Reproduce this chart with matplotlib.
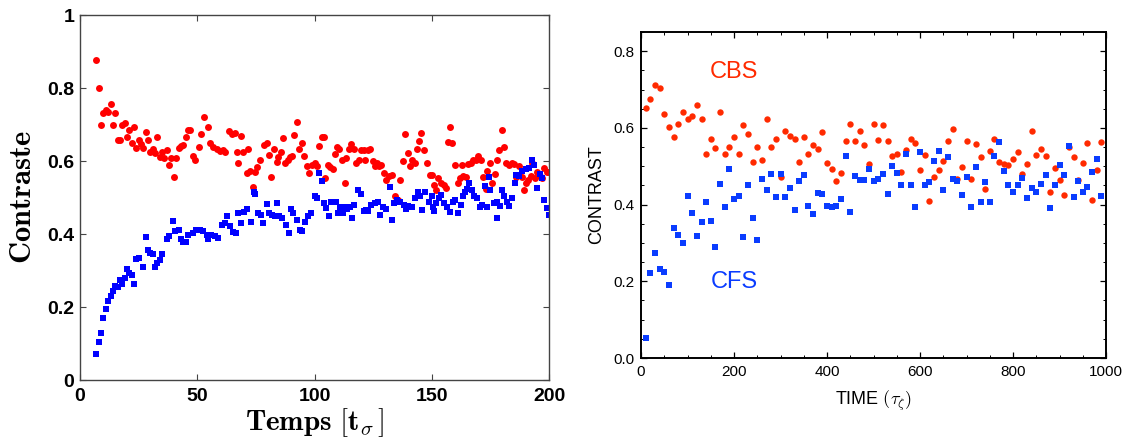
import matplotlib.pyplot as plt
from matplotlib.ticker import MultipleLocator, FuncFormatter

# left panel (Temps [t_sigma] vs Contraste)
t_rouge = [7, 8, 9, 10, 11, 12, 13, 14, 15, 16, 17, 18, 19, 20, 21, 22, 23, 24, 25, 26,
           27, 28, 29, 30, 31, 32, 33, 34, 35, 36, 37, 38, 39, 40, 41, 42, 43, 44, 45, 46,
           47, 48, 49, 50.7, 51.5, 52.9, 54.4, 55.4, 56.9, 58.2, 59.7, 61, 62, 63.5, 64.9, 66,
           66.8, 67.5, 68.5, 69.6, 71, 71.5, 72.5, 73.7, 74.6, 75.3, 76.8, 78.6, 79.6, 80.6,
           81.6, 82.9, 83.9, 84.6, 85.6, 86.6, 87.4, 88.5, 89.7, 90.5, 91.4, 92.5, 93.4, 94.8,
           95.7, 96.7, 97.7, 98.8, 100, 101, 101.8, 103.2, 104, 104.6, 105.8, 106.7, 107.7,
           108.6, 109.6, 110.6, 111.7, 112.8, 113.6, 114.6, 115.7, 116.7, 117.8, 118.8, 119.9,
           120.9, 121.7, 122.8, 123.8, 124.8, 125.7, 126.7, 127.6, 128.5, 129.5, 130.5, 131.6,
           133, 134.2, 135.6, 136.6, 137.6, 138.7, 139.7, 140.6, 141.6, 142.7, 143.7, 144.7,
           145.6, 146.6, 148, 149.4, 150, 151, 151.7, 152.8, 154, 155.2, 156, 157, 157.7, 158.8,
           160, 161, 162, 162.8, 163.5, 164.5, 165.5, 166.6, 167.6, 168.7, 169.7, 170.9, 171.8,
           173, 173.7, 174.7, 175.6, 176.8, 178, 178.7, 179.8, 180.8, 181.8, 183, 184, 185, 186,
           187.2, 188.3, 189.3, 190.3, 191.2, 192.2, 192.9, 194, 195, 196, 197, 198, 199.3, 200]
c_rouge = [0.878, 0.80, 0.698, 0.732, 0.739, 0.735, 0.755, 0.698, 0.732, 0.657, 0.657, 0.698,
           0.705, 0.665, 0.685, 0.648, 0.692, 0.637, 0.657, 0.646, 0.637, 0.680, 0.657, 0.625,
           0.634, 0.621, 0.666, 0.612, 0.625, 0.607, 0.630, 0.589, 0.607, 0.555, 0.607, 0.637,
           0.641, 0.644, 0.665, 0.685, 0.685, 0.614, 0.603, 0.639, 0.675, 0.721, 0.692, 0.648,
           0.639, 0.632, 0.627, 0.630, 0.625, 0.682, 0.675, 0.677, 0.625, 0.595, 0.668, 0.625,
           0.568, 0.634, 0.574, 0.528, 0.571, 0.583, 0.603, 0.643, 0.648, 0.616, 0.555, 0.634,
           0.598, 0.610, 0.625, 0.663, 0.595, 0.603, 0.612, 0.615, 0.670, 0.707, 0.634, 0.650,
           0.614, 0.585, 0.568, 0.589, 0.594, 0.586, 0.642, 0.665, 0.665, 0.553, 0.589, 0.583,
           0.578, 0.619, 0.639, 0.632, 0.604, 0.541, 0.607, 0.632, 0.646, 0.632, 0.595, 0.603,
           0.630, 0.630, 0.603, 0.630, 0.632, 0.601, 0.585, 0.594, 0.586, 0.589, 0.566, 0.548,
           0.559, 0.562, 0.503, 0.492, 0.548, 0.601, 0.675, 0.623, 0.585, 0.603, 0.594, 0.633,
           0.655, 0.677, 0.630, 0.595, 0.562, 0.562, 0.535, 0.521, 0.553, 0.541, 0.535, 0.525,
           0.653, 0.692, 0.648, 0.589, 0.539, 0.553, 0.589, 0.559, 0.557, 0.592, 0.594, 0.603,
           0.603, 0.614, 0.603, 0.555, 0.523, 0.574, 0.594, 0.539, 0.565, 0.603, 0.630, 0.685,
           0.639, 0.594, 0.589, 0.595, 0.592, 0.555, 0.586, 0.557, 0.521, 0.539, 0.548, 0.559,
           0.594, 0.553, 0.571, 0.559, 0.553, 0.580, 0.571, 0.571]

t_bleu = [7, 8, 9, 10, 11, 12, 13, 14, 15, 16, 17, 18, 19, 20, 21, 22, 23, 24, 25, 27, 28,
          29, 30, 31, 32, 33, 34, 35, 37, 38, 39.5, 40.5, 42, 43, 44, 45, 46, 48, 49.5, 51,
          52.6, 54, 54.7, 56, 57.6, 59, 60.4, 61.8, 62.6, 64, 65.4, 66.4, 67.5, 68.5, 70, 71,
          72.8, 74, 74.6, 75.8, 77, 78, 79.6, 80.6, 81.7, 83, 84, 85, 86, 87.7, 88.9, 90, 91,
          92.4, 93.8, 94.8, 96, 97, 98.5, 100, 101, 101.8, 103, 104, 105, 106, 107, 108, 109,
          110, 111, 112, 113, 114, 115, 116, 117, 118.5, 120, 121, 122, 123, 124, 125.6, 127,
          128, 129, 130.5, 132, 133, 134, 135, 136.6, 138, 139, 140, 141.6, 143, 144, 145, 146,
          147, 148.7, 150, 150.5, 151, 152, 153, 154, 155, 156.6, 157.7, 159, 160, 161.3, 162.3,
          163.3, 164.2, 165, 166, 167, 168, 169.4, 170.4, 171.6, 172.7, 173.7, 174.4, 175,
          176.5, 177.7, 178, 179, 180, 181, 182, 183, 184, 185.5, 186, 187, 188.6, 190, 191.3,
          192.6, 193.6, 195, 196, 197, 198, 199, 200]
c_bleu = [0.071, 0.105, 0.128, 0.171, 0.195, 0.216, 0.230, 0.244, 0.257, 0.255, 0.275, 0.262,
          0.280, 0.303, 0.292, 0.289, 0.262, 0.332, 0.335, 0.310, 0.392, 0.357, 0.348, 0.344,
          0.310, 0.321, 0.330, 0.344, 0.385, 0.394, 0.436, 0.407, 0.412, 0.385, 0.377, 0.377,
          0.398, 0.403, 0.412, 0.412, 0.407, 0.398, 0.385, 0.398, 0.394, 0.389, 0.425, 0.430,
          0.450, 0.422, 0.405, 0.403, 0.457, 0.430, 0.459, 0.468, 0.432, 0.514, 0.510, 0.457,
          0.453, 0.430, 0.483, 0.457, 0.453, 0.448, 0.484, 0.448, 0.444, 0.425, 0.403, 0.468,
          0.457, 0.439, 0.412, 0.407, 0.434, 0.448, 0.457, 0.503, 0.498, 0.566, 0.544, 0.485,
          0.471, 0.448, 0.487, 0.489, 0.487, 0.457, 0.475, 0.457, 0.475, 0.468, 0.475, 0.444,
          0.480, 0.521, 0.510, 0.462, 0.466, 0.462, 0.480, 0.485, 0.489, 0.453, 0.475, 0.468,
          0.530, 0.439, 0.485, 0.492, 0.489, 0.480, 0.468, 0.477, 0.475, 0.498, 0.516, 0.503,
          0.466, 0.514, 0.489, 0.503, 0.475, 0.464, 0.485, 0.498, 0.507, 0.485, 0.475, 0.459,
          0.489, 0.494, 0.457, 0.480, 0.503, 0.516, 0.523, 0.539, 0.521, 0.503, 0.498, 0.475,
          0.480, 0.532, 0.475, 0.555, 0.521, 0.485, 0.489, 0.444, 0.477, 0.521, 0.503, 0.487,
          0.477, 0.498, 0.539, 0.562, 0.559, 0.574, 0.577, 0.580, 0.603, 0.589, 0.525, 0.565,
          0.553, 0.494, 0.471, 0.453]

# right panel (TIME vs CONTRAST)
time_r = list(range(10, 1000, 10))
cbs = [0.653, 0.676, 0.712, 0.705, 0.637, 0.603, 0.577, 0.611, 0.642, 0.624,
       0.630, 0.659, 0.622, 0.531, 0.570, 0.547, 0.642, 0.531, 0.551, 0.577,
       0.532, 0.607, 0.583, 0.512, 0.549, 0.517, 0.623, 0.551, 0.572, 0.472,
       0.593, 0.578, 0.571, 0.510, 0.577, 0.531, 0.556, 0.544, 0.590, 0.508,
       0.492, 0.461, 0.483, 0.566, 0.609, 0.567, 0.593, 0.555, 0.507, 0.609,
       0.568, 0.608, 0.567, 0.528, 0.533, 0.484, 0.543, 0.570, 0.560, 0.490,
       0.529, 0.409, 0.471, 0.490, 0.515, 0.565, 0.598, 0.468, 0.497, 0.565,
       0.468, 0.558, 0.525, 0.441, 0.539, 0.570, 0.512, 0.505, 0.503, 0.519,
       0.536, 0.481, 0.507, 0.592, 0.530, 0.546, 0.527, 0.432, 0.496, 0.464,
       0.426, 0.551, 0.523, 0.463, 0.508, 0.561, 0.412, 0.490, 0.563]
cfs = [0.052, 0.222, 0.274, 0.233, 0.223, 0.190, 0.338, 0.322, 0.300, 0.422,
       0.377, 0.317, 0.354, 0.407, 0.357, 0.290, 0.455, 0.394, 0.492, 0.414,
       0.422, 0.315, 0.450, 0.365, 0.307, 0.468, 0.439, 0.480, 0.419, 0.480,
       0.421, 0.444, 0.387, 0.461, 0.476, 0.396, 0.375, 0.431, 0.427, 0.397,
       0.394, 0.396, 0.414, 0.527, 0.381, 0.474, 0.465, 0.465, 0.494, 0.462,
       0.468, 0.480, 0.428, 0.500, 0.483, 0.450, 0.532, 0.452, 0.394, 0.537,
       0.450, 0.458, 0.515, 0.539, 0.438, 0.523, 0.468, 0.461, 0.425, 0.473,
       0.393, 0.498, 0.407, 0.460, 0.406, 0.528, 0.564, 0.487, 0.452, 0.432,
       0.452, 0.470, 0.418, 0.442, 0.433, 0.454, 0.478, 0.390, 0.450, 0.502,
       0.477, 0.554, 0.421, 0.461, 0.434, 0.447, 0.484, 0.519, 0.423]

fig = plt.figure(figsize=(11.29, 4.38), dpi=100)

# ---- left ----
ax1 = fig.add_axes([0.0709, 0.1324, 0.4154, 0.8333])
ax1.plot(t_rouge, c_rouge, linestyle='none', marker='o', ms=5, mew=0, color='#ff0000')
ax1.plot(t_bleu, c_bleu, linestyle='none', marker='s', ms=4.6, mew=0, color='#0000ff')
ax1.set_xlim(0, 200)
ax1.set_ylim(0, 1)
ax1.xaxis.set_major_locator(MultipleLocator(50))
ax1.yaxis.set_major_locator(MultipleLocator(0.2))
ax1.yaxis.set_major_formatter(FuncFormatter(lambda v, p: '%g' % round(v, 2)))
ax1.tick_params(direction='in', top=True, right=True, length=4, width=0.8, color='#444444')
ax1.tick_params(axis='y', pad=4)
ax1.tick_params(axis='x', pad=6)
for lab in ax1.get_xticklabels() + ax1.get_yticklabels():
    lab.set_fontfamily('Liberation Sans')
    lab.set_fontweight('bold')
    lab.set_fontsize(14)
for s in ax1.spines.values():
    s.set_color('#444444')
    s.set_linewidth(1)
ax1.set_ylabel(r'$\mathbf{Contraste}$', fontsize=22, math_fontfamily='cm')
ax1.set_xlabel(r'$\mathbf{Temps\ [t_{\sigma}\,]}$', fontsize=21, math_fontfamily='cm')
ax1.yaxis.set_label_coords(-0.092, 0.5)
ax1.xaxis.set_label_coords(0.5, -0.072)

# ---- right ----
rouge = '#ff2a00'
bleu = '#0a3cff'
ax2 = fig.add_axes([0.5678, 0.1826, 0.4119, 0.7443])
ax2.plot(time_r, cbs, linestyle='none', marker='o', ms=4.6, mew=0, color=rouge)
ax2.plot(time_r, cfs, linestyle='none', marker='s', ms=4.6, mew=0, color=bleu)
ax2.set_xlim(0, 1000)
ax2.set_ylim(0, 0.85)
ax2.xaxis.set_major_locator(MultipleLocator(200))
ax2.xaxis.set_minor_locator(MultipleLocator(50))
ax2.yaxis.set_major_locator(MultipleLocator(0.2))
ax2.yaxis.set_minor_locator(MultipleLocator(0.05))
ax2.yaxis.set_major_formatter(FuncFormatter(lambda v, p: '%.1f' % v))
ax2.tick_params(which='both', direction='in', top=True, right=True, color='black')
ax2.tick_params(which='major', length=4, width=0.9, pad=5, labelsize=11)
ax2.tick_params(which='minor', length=2.5, width=0.7)
for lab in ax2.get_xticklabels() + ax2.get_yticklabels():
    lab.set_fontfamily('Liberation Sans')
for s in ax2.spines.values():
    s.set_linewidth(1.4)
ax2.set_ylabel('CONTRAST', fontsize=13, family='Liberation Sans')
ax2.set_xlabel(r'TIME $(\tau_\zeta)$', fontsize=13, family='Liberation Sans', math_fontfamily='cm')
ax2.yaxis.set_label_coords(-0.077, 0.5)
ax2.xaxis.set_label_coords(0.5, -0.095)
ax2.text(200, 0.746, 'CBS', color=rouge, fontsize=17, family='Liberation Sans', ha='center', va='center')
ax2.text(200, 0.198, 'CFS', color=bleu, fontsize=17, family='Liberation Sans', ha='center', va='center')

fig.savefig('out.png', dpi=100)
